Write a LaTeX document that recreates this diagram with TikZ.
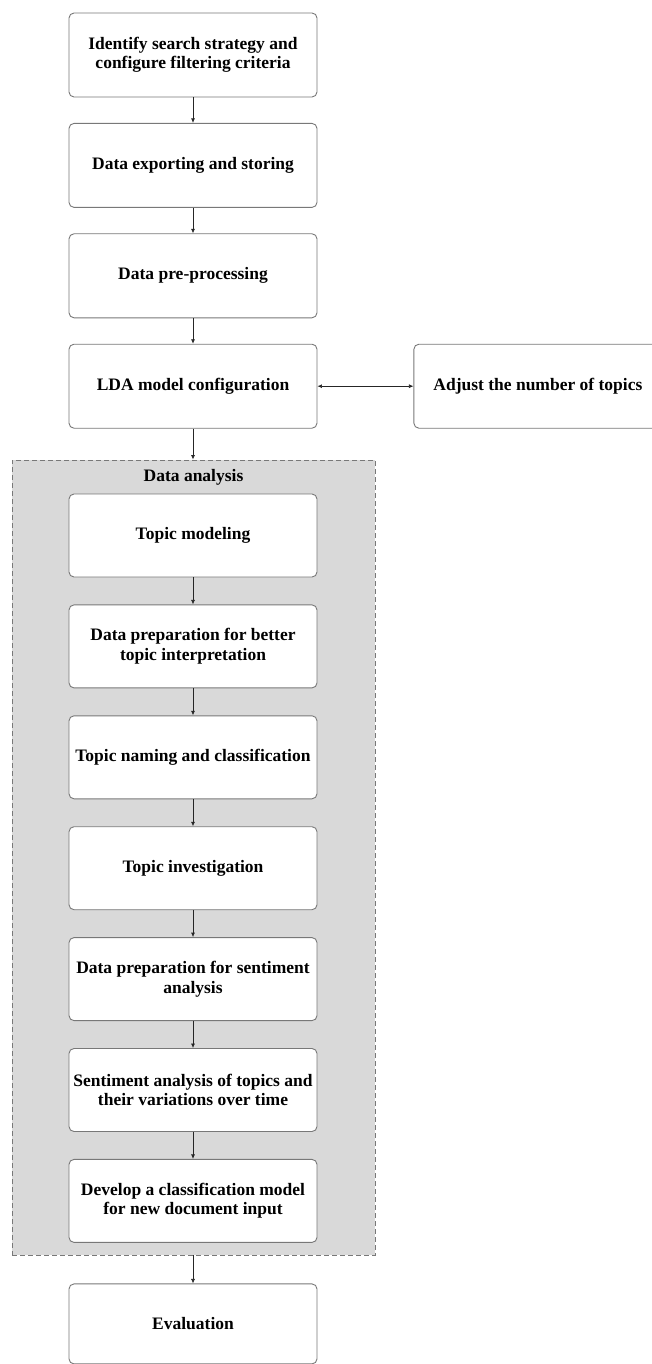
\documentclass[tikz,border=0pt]{standalone}
\usepackage{fontspec}
\setmainfont{Liberation Serif}
\definecolor{myboxgray}{RGB}{120,120,120}
\definecolor{myshade}{RGB}{217,217,217}
\usetikzlibrary{positioning,arrows.meta}

\begin{document}
\begin{tikzpicture}[
  x=1pt,
  y=1pt,
  mybox/.style={
    draw=myboxgray,
    line width=0.9pt,
    rounded corners=5pt,
    fill=white,
    minimum width=248pt,
    minimum height=84pt,
    align=center,
    font=\fontsize{17.5}{19.5}\selectfont\bfseries
  },
  myframe/.style={
    draw=myboxgray,
    line width=0.9pt,
    dash pattern=on 5pt off 3pt,
    fill=myshade,
    minimum width=363pt,
    minimum height=795pt
  },
  myarrow/.style={
    draw=black!85,
    line width=0.7pt,
    -{Latex[length=4.5pt,width=4pt]}
  }
]
\useasboundingbox (0,0) rectangle (652,-1364);

% upper chain
\node[mybox] at (193,-55) (search) {Identify search strategy and\\configure filtering criteria};
\node[mybox, below=25.5pt of search] (store) {Data exporting and storing};
\node[mybox, below=25.5pt of store] (prep) {Data pre-processing};
\node[mybox, below=25.5pt of prep] (lda) {LDA model configuration};
\node[mybox, right=96pt of lda] (ntopics) {Adjust the number of topics};

% data analysis frame
\node[myframe] at (193.5,-857.5) (analysis) {};
\node[font=\fontsize{17.5}{19.5}\selectfont\bfseries] at ([yshift=-18pt]analysis.north) (analysislabel) {Data analysis};

\node[mybox, minimum height=83pt] at (193,-535.5) (model) {Topic modeling};
\node[mybox, minimum height=83pt, below=27pt of model] (interp) {Data preparation for better\\topic interpretation};
\node[mybox, minimum height=83pt, below=27pt of interp] (naming) {Topic naming and classification};
\node[mybox, minimum height=83pt, below=27pt of naming] (invest) {Topic investigation};
\node[mybox, minimum height=83pt, below=27pt of invest] (sentprep) {Data preparation for sentiment\\analysis};
\node[mybox, minimum height=83pt, below=27pt of sentprep] (sent) {Sentiment analysis of topics and\\their variations over time};
\node[mybox, minimum height=83pt, below=27pt of sent] (classif) {Develop a classification model\\for new document input};

\node[mybox, minimum height=80pt, below=28pt of analysis.south -| classif] (eval) {Evaluation};

\draw[myarrow] (search) -- (store);
\draw[myarrow] (store) -- (prep);
\draw[myarrow] (prep) -- (lda);
\draw[myarrow, {Latex[length=4.5pt,width=4pt]}-{Latex[length=4.5pt,width=4pt]}] (lda) -- (ntopics);
\draw[myarrow] (lda.south) -- (lda.south |- analysis.north);

\draw[myarrow] (model) -- (interp);
\draw[myarrow] (interp) -- (naming);
\draw[myarrow] (naming) -- (invest);
\draw[myarrow] (invest) -- (sentprep);
\draw[myarrow] (sentprep) -- (sent);
\draw[myarrow] (sent) -- (classif);

\draw[myarrow] (classif.south |- analysis.south) -- (eval);

\end{tikzpicture}
\end{document}
